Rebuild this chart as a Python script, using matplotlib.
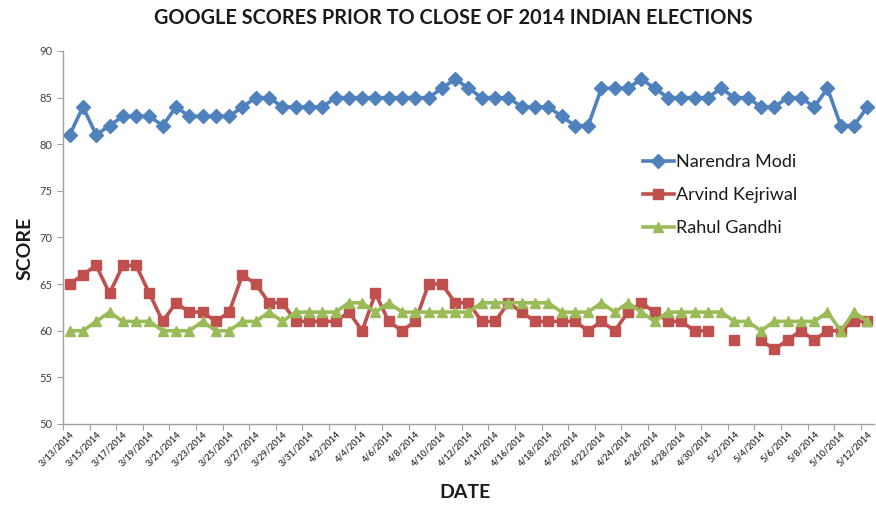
import numpy as np
import pandas as pd
import matplotlib
matplotlib.use("Agg")
import matplotlib.pyplot as plt

plt.rcParams['font.family'] = ['Lato', 'DejaVu Sans']

dates = pd.date_range('2014-03-13', '2014-05-12', freq='D')
date_labels = ["{}/{}/{}".format(d.month, d.day, d.year) for d in dates]

modi = [81, 84, 81, 82, 83, 83, 83, 82, 84, 83, 83, 83, 83, 84, 85, 85, 84, 84, 84, 84,
        85, 85, 85, 85, 85, 85, 85, 85, 86, 87, 86, 85, 85, 85, 84, 84, 84, 83, 82, 82,
        86, 86, 86, 87, 86, 85, 85, 85, 85, 86, 85, 85, 84, 84, 85, 85, 84, 86, 82, 82, 84]
kejriwal = [65, 66, 67, 64, 67, 67, 64, 61, 63, 62, 62, 61, 62, 66, 65, 63, 63, 61, 61, 61,
            61, 62, 60, 64, 61, 60, 61, 65, 65, 63, 63, 61, 61, 63, 62, 61, 61, 61, 61, 60,
            61, 60, 62, 63, 62, 61, 61, 60, 60, np.nan, 59, np.nan, 59, 58, 59, 60, 59, 60, 60, 61, 61]
gandhi = [60, 60, 61, 62, 61, 61, 61, 60, 60, 60, 61, 60, 60, 61, 61, 62, 61, 62, 62, 62,
          62, 63, 63, 62, 63, 62, 62, 62, 62, 62, 62, 63, 63, 63, 63, 63, 63, 62, 62, 62,
          63, 62, 63, 62, 61, 62, 62, 62, 62, 62, 61, 61, 60, 61, 61, 61, 61, 62, 60, 62, 61]

series = [
    ("Narendra Modi", modi, "#4F81BD", "D", 7.5),
    ("Arvind Kejriwal", kejriwal, "#C0504D", "s", 6.5),
    ("Rahul Gandhi", gandhi, "#9BBB59", "^", 7),
]

W, H = 876, 508
fig = plt.figure(figsize=(W / 100, H / 100), dpi=100)
ax = fig.add_axes([63 / W, 1 - 424 / H, 811 / W, 373 / H])

x = np.arange(len(dates))
for name, vals, col, mk, ms in series:
    ax.plot(x, vals, color=col, lw=2.6, marker=mk, markersize=ms,
            markeredgecolor=col, label=name)

ax.set_xlim(-0.5, len(dates) - 0.5)
ax.set_ylim(50, 90)
ax.set_yticks(range(50, 91, 5))
ax.tick_params(axis='y', labelsize=8, labelcolor='#404040', length=4, width=0.8, color='#A0A0A0')

ax.set_xticks(x[::2])
ax.set_xticklabels(date_labels[::2], rotation=45, ha='right', rotation_mode='anchor',
                   fontsize=6.5, fontweight='bold', color='#404040')
ax.tick_params(axis='x', length=0, pad=4)
ax.set_xticks(np.arange(-0.5, len(dates), 2), minor=True)
ax.tick_params(axis='x', which='minor', length=4, width=0.8, color='#A0A0A0')

for s in ['top', 'right']:
    ax.spines[s].set_visible(False)
for s in ['left', 'bottom']:
    ax.spines[s].set_color('#A0A0A0')
    ax.spines[s].set_linewidth(1)

fig.text(453 / W, 1 - 18 / H, "GOOGLE SCORES PRIOR TO CLOSE OF 2014 INDIAN ELECTIONS",
         ha='center', va='center', fontsize=14.3, fontweight='bold', color='#1a1a1a')
fig.text(25 / W, 1 - 248 / H, "SCORE", rotation=90, ha='center', va='center',
         fontsize=14, fontweight='bold', color='#1a1a1a')
fig.text(465 / W, 1 - 493 / H, "DATE", ha='center', va='center',
         fontsize=14, fontweight='bold', color='#1a1a1a')

leg = ax.legend(loc='upper left', bbox_to_anchor=(634 / W, 1 - 145 / H),
                bbox_transform=fig.transFigure, frameon=False, fontsize=13,
                handlelength=1.7, handletextpad=0.15, labelspacing=0.95, borderpad=0)
for t in leg.get_texts():
    t.set_color('#1a1a1a')

fig.savefig("out.png", dpi=100)
